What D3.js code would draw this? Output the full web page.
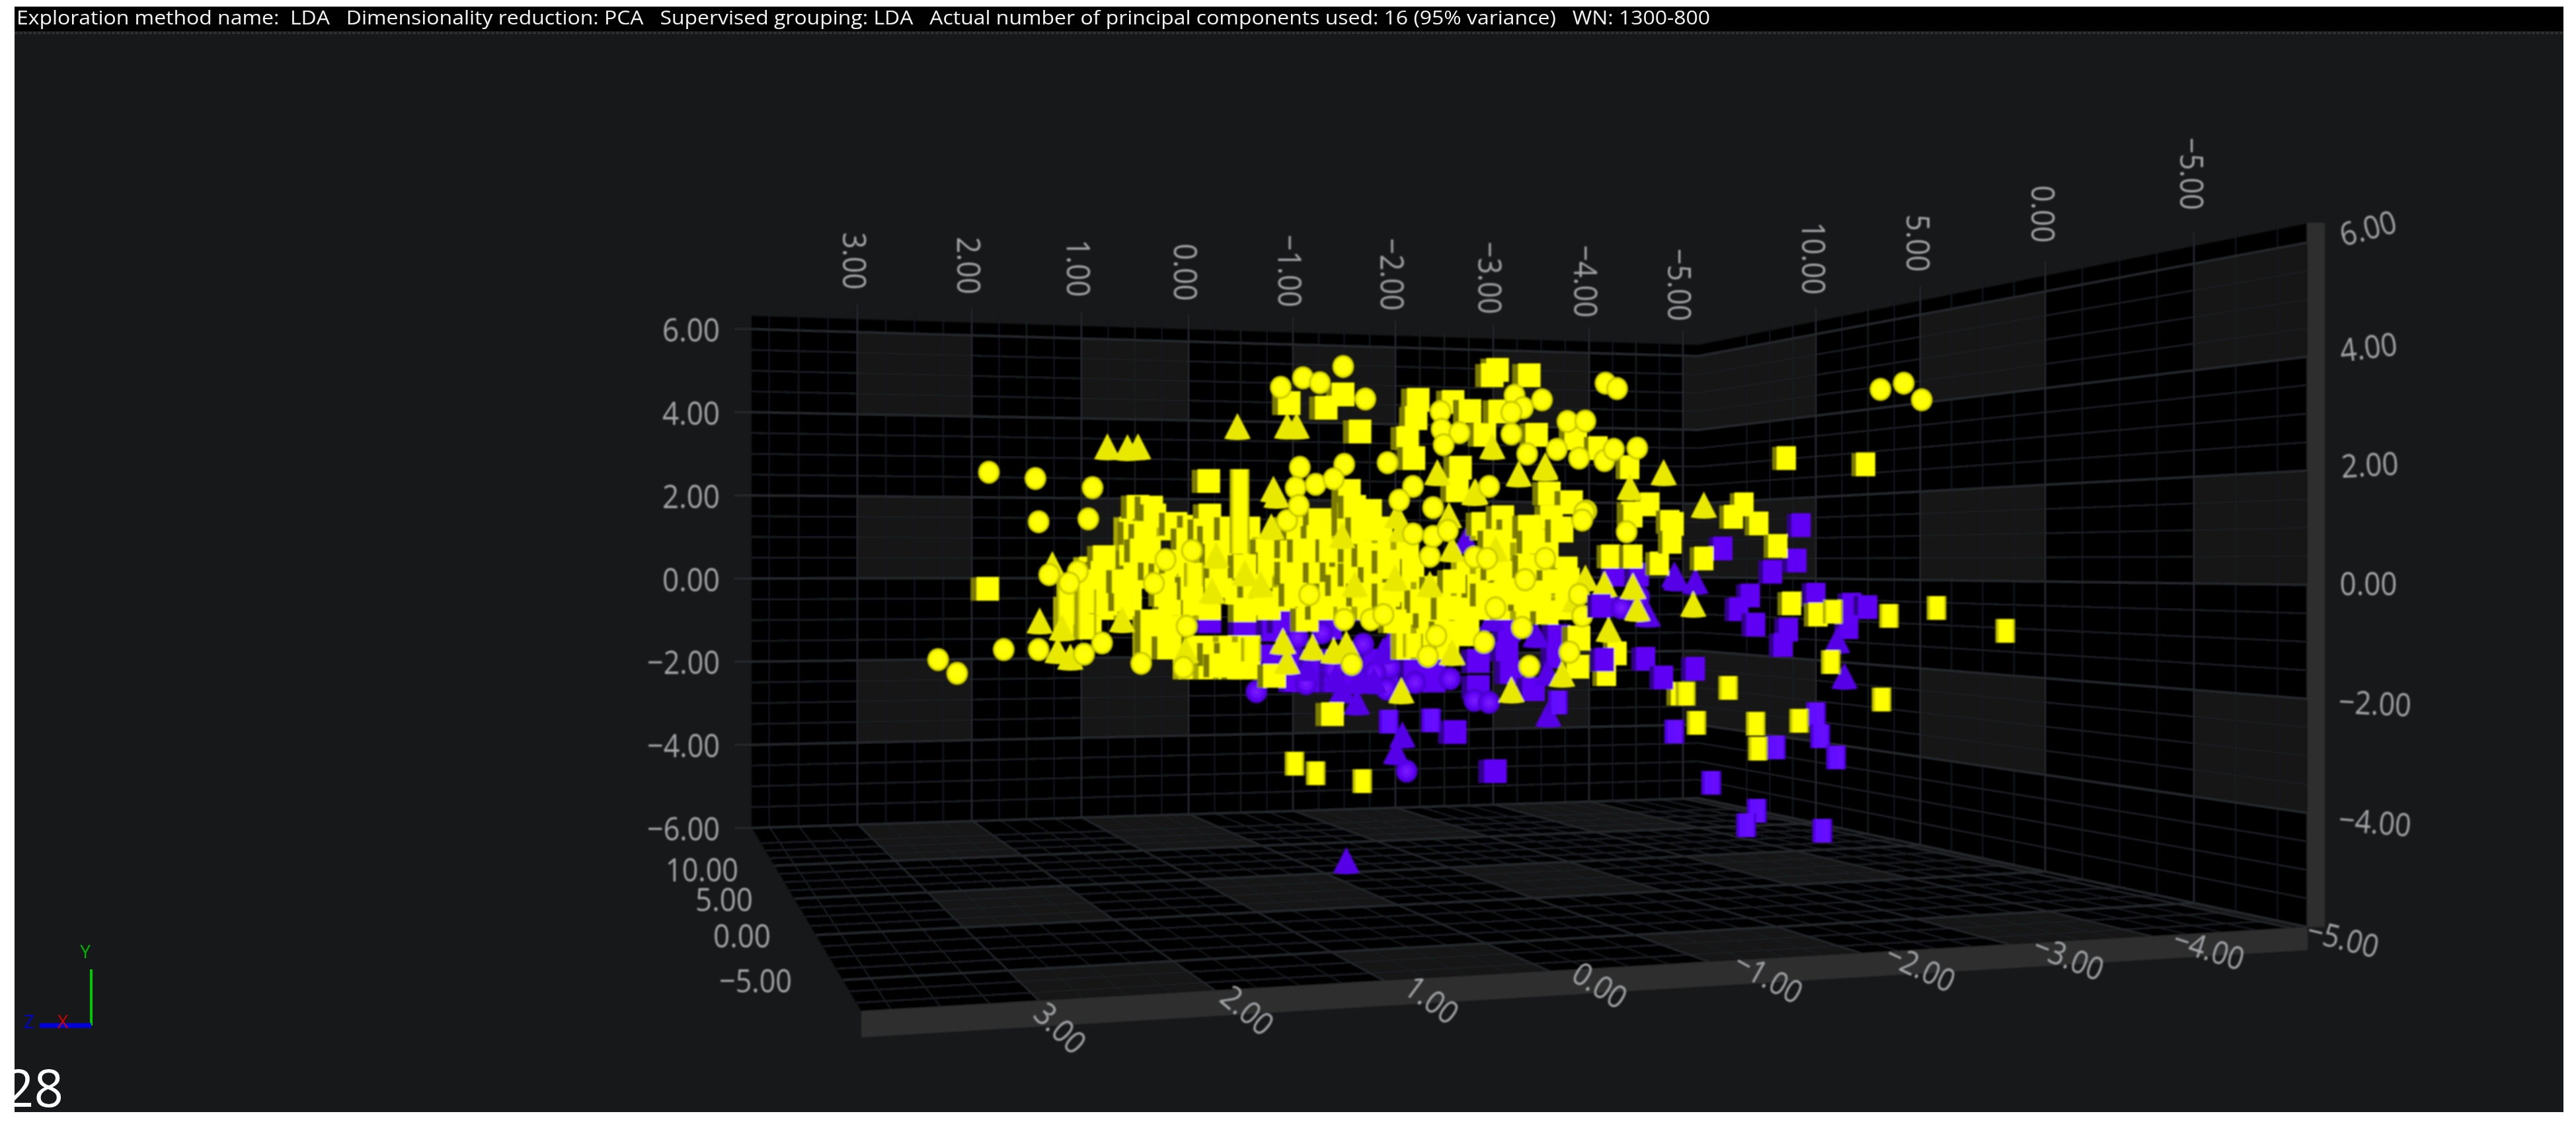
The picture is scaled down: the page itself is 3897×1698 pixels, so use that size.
<!DOCTYPE html>
<html><head><meta charset="utf-8"><style>html,body{margin:0;background:#fff}svg{display:block}text{font-family:"Open Sans",sans-serif;white-space:pre}</style>
<script src="https://cdn.jsdelivr.net/npm/d3@7"></script></head><body><div id="c"></div>
<script>
const headerText="Exploration method name:  LDA   Dimensionality reduction: PCA   Supervised grouping: LDA   Actual number of principal components used: 16 (95% variance)   WN: 1300-800";
const xTicks=[3,2,1,0,-1,-2,-3,-4,-5];
const yTicks=[6,4,2,0,-2,-4,-6];
const yRightTicks=[6,4,2,0,-2,-4];
const zTicks=[10,5,0,-5];

const yellowSpheres=[[-1.45,5.10],[-1.07,4.83],[-1.23,4.71],[-0.86,4.60],[-1.66,4.32],[-1.04,2.68],[-1.46,2.75],[-1.00,2.19],[-1.19,2.27],[-1.36,2.40],[-1.87,2.79],[-2.11,2.22],[-1.98,1.89],[-2.30,1.71],[-2.37,4.02],[-2.38,3.59],[-2.55,3.51],[-2.40,3.22],[-2.83,2.22],[-3.07,4.41],[-3.15,4.11],[-3.04,4.00],[-3.33,4.30],[-3.04,3.48],[-3.19,3.00],[-3.47,3.11],[-3.57,3.78],[-3.74,3.79],[-3.68,2.90],[-3.92,2.84],[-4.01,3.11],[-4.23,3.14],[-3.93,4.70],[-4.04,4.57],[-0.92,1.40],[-1.03,1.76],[-3.75,1.63],[-4.13,1.13],
[1.90,2.56],[1.46,2.41],[0.92,2.19],[1.43,1.37],[0.96,1.44],[1.33,0.10],[1.06,0.17],[1.14,-0.10],[1.43,-1.70],[1.00,-1.81],[0.83,-1.54],[0.46,-2.03],[0.06,-2.13],[0.34,-0.11],[0.23,0.46],[0.03,-1.14],[-0.02,0.68],[2.38,-1.94],[2.20,-2.27],[1.76,-1.70],[-1.13,-0.38],[-1.46,-0.98],
[-2.69,0.52],[-2.81,0.49],[-2.27,0.54],[-2.30,1.02],[-2.11,1.08],[-2.44,1.16],[-3.36,0.49],[-3.17,-0.02],[-3.71,-0.89],[-3.68,-0.38],[-3.73,1.60],[-3.71,1.41],[-1.71,-0.98],[-1.83,-0.86],[-2.33,-1.37],[-2.78,-1.52],[-2.25,-1.86],[-1.53,-2.05],[-3.21,-2.10],[-3.14,-1.17],[-2.89,-0.70],[-3.59,-1.76],
[-6.53,4.55],[-6.75,4.70],[-6.92,4.30]];
const yellowMass=[[0.56,1.21],[0.38,1.21],[0.19,1.21],[-0.19,1.21],[-0.38,1.21],[-0.56,1.21],[-0.94,1.21],[-1.13,1.21],[-1.31,1.21],[-1.50,1.21],[-1.69,1.21],[-2.81,1.21],[-3.00,1.21],[-3.19,1.21],[-3.38,1.21],[-3.50,1.21],
[0.56,0.73],[0.38,0.73],[0.00,0.73],[-0.19,0.73],[-0.38,0.73],[-0.56,0.73],[-0.75,0.73],[-0.94,0.73],[-1.13,0.73],[-1.31,0.73],[-1.50,0.73],[-1.69,0.73],[-1.88,0.73],[-2.06,0.73],[-3.00,0.73],[-3.19,0.73],[-3.38,0.73],
[0.94,0.25],[0.75,0.25],[0.56,0.25],[0.38,0.25],[0.19,0.25],[0.00,0.25],[-0.19,0.25],[-0.38,0.25],[-0.56,0.25],[-0.75,0.25],[-0.94,0.25],[-1.13,0.25],[-1.31,0.25],[-1.50,0.25],[-1.69,0.25],[-1.88,0.25],[-2.06,0.25],[-2.63,0.25],[-2.81,0.25],[-3.00,0.25],[-3.19,0.25],[-3.38,0.25],[-3.56,0.25],
[0.94,-0.22],[0.75,-0.22],[0.56,-0.22],[0.19,-0.22],[0.00,-0.22],[-0.19,-0.22],[-0.38,-0.22],[-0.56,-0.22],[-0.75,-0.22],[-0.94,-0.22],[-1.13,-0.22],[-1.31,-0.22],[-1.50,-0.22],[-1.69,-0.22],[-1.88,-0.22],[-2.06,-0.22],[-2.25,-0.22],[-2.44,-0.22],[-2.63,-0.22],[-2.81,-0.22],[-3.00,-0.22],[-3.19,-0.22],[-3.38,-0.22],[-3.56,-0.22],
[1.13,-0.70],[0.94,-0.70],[0.75,-0.70],[0.56,-0.70],[0.19,-0.70],[0.00,-0.70],[-0.19,-0.70],[-0.56,-0.70],[-0.75,-0.70],[-1.13,-0.70],[-1.50,-0.70],[-1.69,-0.70],[-1.88,-0.70],[-2.06,-0.70],[-2.25,-0.70],[-2.44,-0.70],[-2.63,-0.70],[-2.81,-0.70],[-3.00,-0.70],[-3.19,-0.70],[-3.38,-0.70],[-3.56,-0.70],
[1.13,-1.17],[0.94,-1.17],[0.38,-1.17],[0.19,-1.17],[-2.06,-1.17],[-2.25,-1.17],[-2.44,-1.17],[-2.63,-1.17],
[0.38,-1.65],[0.19,-1.65],[0.00,-1.65],[-0.19,-1.65],[-0.38,-1.65],[-0.56,-1.65],[-2.06,-1.65],[-2.25,-1.65],[-2.44,-1.65],
[0.00,-2.13],[-0.19,-2.13],[-0.38,-2.13],[-0.56,-2.13]];
const yellowSquares=[[-2.91,5.02],[-2.86,4.89],[-3.21,4.89],[-0.94,4.22],[-1.45,4.43],[-1.29,4.11],[-1.61,3.54],[-2.16,4.30],[-2.14,3.86],[-2.49,4.25],[-2.65,4.03],[-2.06,3.38],[-2.12,2.90],[-2.79,3.46],[-2.93,4.02],[-3.28,3.46],[-3.65,3.38],[-2.56,2.67],[-4.16,2.68],[-3.86,3.14],[-2.53,2.13],[-3.40,2.05],[-3.61,1.84],[-4.35,1.79],[-4.17,1.57],[-0.18,2.35],[-5.64,2.90],[-6.39,2.75],[-5.38,1.33],[-5.24,1.79],[-5.14,1.49],[-4.58,1.32],[-5.56,0.79],[-4.86,0.49],[-5.69,-0.59],[-5.94,-0.86],[-4.04,-1.79],[-3.68,-1.41],[-3.67,-2.11],[-3.94,-2.29],[1.91,-0.24],[-1.35,-3.25],
[0.49,1.73],[0.36,1.71],[0.33,1.52],[0.52,1.10],[0.42,1.05],[0.42,0.57],[0.56,0.41],[0.81,0.52],[0.83,0.14],[0.75,-0.27],[0.79,-0.59],[0.61,-0.49],[0.52,0.05],[0.33,0.25],[0.23,0.10],[0.13,1.32],[-0.04,1.25],[0.02,0.94],[-0.19,1.52],[-0.14,1.16],[-0.23,1.00],[-0.39,1.21],[-0.61,0.68],[-0.73,0.68],[-0.75,0.37],[-0.96,0.78],[-1.02,1.21],[-1.23,1.41],[-1.21,1.00],[-0.96,0.14],[-1.23,0.14],[-1.39,0.21],[-1.50,1.84],[-1.50,1.32],[-1.48,0.57],[-0.89,-0.49],[-0.71,-0.59],[-0.52,-0.75],[-0.44,-0.33],[-0.61,-0.17],[-0.04,-0.59],[0.19,-0.59],[0.36,-1.02],[0.36,-1.49],[0.20,-1.65],[-0.08,-1.65],[-0.23,-1.81],[-0.39,-1.81],[-0.46,-2.13],[-0.29,-2.08],[-0.80,-2.33],[-1.11,-0.98],[-1.33,0.68],[-1.33,-0.38],[-1.44,-0.17],[-1.08,0.68],[-0.25,-0.17],[-0.29,0.30],[-0.52,0.30],[-0.02,-0.22],[0.23,-0.38],[0.46,0.68],[-1.51,2.11],[-4.19,1.52],[-2.77,1.32],[-2.96,1.48],[-3.06,1.16],[-3.42,1.48],[-3.52,1.16],[-3.21,1.25],[-1.71,1.63],[-1.56,1.73],[-3.98,0.54],[-4.19,0.54],[-4.44,0.37],[-4.54,1.37],[-4.56,0.89],[-2.11,0.21],[-2.33,-0.22],[-2.73,-0.17],[-3.00,0.14],[-3.21,0.30],[-3.58,-0.02],[-3.44,-0.06],[-3.31,-0.33],[-3.38,-0.81],[-3.17,-0.49],[-2.98,-0.33],[-1.56,0.10],[-1.75,0.10],[-1.92,-0.49],[-2.11,-0.81],[-2.61,-0.89],[-2.61,-1.33],[-3.68,-1.44],[-4.64,-2.76],[-1.56,0.68],[-1.69,0.57],[-1.98,-0.27],[-1.64,-0.38],[-2.27,-0.90],[-2.42,-1.29],[-1.88,0.41],[-2.50,-0.06],[-2.81,-0.38],[-2.19,-0.54],[-2.44,-0.70],[-1.81,1.21],[-1.25,-0.70],[-1.00,-0.38],[-1.88,-0.38],[-0.25,0.57],[0.13,0.41],[0.94,-0.06],[0.63,-0.06],[-1.63,1.21],[-2.91,0.25],[-1.94,-1.02],[-3.25,0.89],[-2.88,0.89]];
const yellowCylinders=[[-0.47,2.35],[-0.47,1.84],[-0.47,1.37],[-0.47,0.89],[0.98,-0.54],[1.17,-0.33],[1.17,-0.81],[0.98,-1.13],[-0.04,0.10],[-0.58,-1.70],[-2.11,-1.60],[-6.06,-2.00],[-6.54,-2.90],[-5.09,-2.62],[-4.69,-2.76],[-4.79,-3.46],[-5.76,-3.41],[-5.35,-3.48],[-5.37,-4.08],[-6.08,-0.79],[-6.61,-0.89],[-7.06,-0.70],[-7.71,-1.25],[-0.99,-4.44],[-1.19,-4.67],[-1.63,-4.86]];
const yellowCones=[[-0.92,3.63],[-1.01,3.63],[-2.34,2.51],[-3.36,2.68],[-2.86,3.14],[-3.11,2.48],[-2.69,2.03],[-4.48,2.51],[-4.16,2.16],[-2.45,1.48],[-1.96,1.48],[-0.82,1.97],[-4.86,1.73],[0.78,3.13],[0.59,3.11],[0.49,3.13],[-0.45,3.62],[1.42,-1.05],[1.21,-1.22],[1.25,-1.76],[1.13,-1.92],[0.64,-1.02],[1.30,0.30],[-0.25,0.52],[-0.79,2.11],[-0.67,-0.17],[-0.92,-2.02],[-1.16,-1.68],[-1.48,-1.60],[-0.88,-1.54],[-1.36,-1.76],[-0.21,-0.33],[-1.44,1.00],[-0.77,1.21],[-0.52,0.10],[0.04,-1.76],[-2.70,2.05],[-3.36,2.63],[-2.00,1.16],[-2.89,0.68],[-2.48,0.68],[-3.74,-0.02],[-3.92,-0.17],[-4.19,-0.22],[-3.96,-1.25],[-3.64,-0.54],[-1.94,-0.02],[-1.56,-0.17],[-2.00,-2.73],[-2.48,-1.81],[-3.04,-2.71],[-3.52,-2.33],[-2.27,-0.17],[-4.23,-0.75],[-4.76,-0.65]];
const purpleMass=[[-1.00,-1.97],[-1.19,-1.97],[-1.38,-1.97],[-1.56,-1.97],[-1.75,-1.97],[-1.94,-1.97],[-2.13,-1.97],[-2.31,-1.97],[-1.00,-2.44],[-1.19,-2.44],[-1.38,-2.44],[-1.56,-2.44],[-1.75,-2.44],[-1.94,-2.44],[-2.13,-2.44],[-2.31,-2.44]];
const purpleSquares=[[-0.19,-1.02],[-0.52,-1.21],[-0.79,-1.22],[-0.89,-1.02],[-1.21,-0.75],[-1.33,-1.17],[-0.75,-1.86],[-2.73,-1.97],[-2.73,-2.60],[-3.00,-1.70],[-3.04,-2.24],[-3.25,-2.65],[-3.49,-1.38],[-3.48,-1.86],[-3.02,-1.22],[-2.51,-3.68],[-2.89,-4.62],[-1.94,-0.86],[-2.13,-2.24],[-3.21,0.76],[-1.92,0.17],[-4.02,0.10],[-4.25,0.10],[-5.78,1.29],[-5.04,0.73],[-5.74,0.44],[-5.51,0.17],[-5.30,-0.40],[-5.19,-0.73],[-5.35,-1.10],[-5.66,-1.22],[-5.61,-1.59],[-6.26,-0.62],[-6.41,-0.68],[-6.23,-1.16],[-5.92,-0.38],[-3.93,-0.62]];
const purpleSquaresFront=[[-3.92,-1.94],[-4.31,-1.92],[-4.48,-2.37],[-4.78,-2.16],[-3.89,-0.65]];
const purpleCylinders=[[-1.88,-3.43],[-2.28,-3.40],[-4.58,-3.67],[-3.48,-2.97],[-5.92,-3.25],[-5.96,-3.78],[-6.11,-4.29],[-5.54,-4.05],[-4.93,-4.90],[-5.36,-5.57],[-5.26,-5.92],[-5.98,-6.05]];
const purpleSpheres=[[-0.61,-2.13],[-0.63,-2.71],[-1.10,-2.52],[-1.02,-1.41],[-1.25,-1.30],[-1.36,-2.17],[-1.58,-0.75],[-1.64,-1.57],[-1.94,-1.52],[-1.89,-2.13],[-1.75,-2.25],[-2.46,-2.40],[-2.69,-2.92],[-2.83,-2.97],[-4.08,-0.70],[-4.25,-0.43],[-2.05,-4.62],[-2.13,-2.49],[-1.86,-2.65]];
const purpleCones=[[-1.11,-2.17],[-1.38,-2.40],[-1.44,-2.71],[-2.86,-0.98],[-3.27,-1.38],[-1.83,-1.76],[-1.58,-3.00],[-1.59,-2.49],[-2.01,-3.79],[-1.95,-4.19],[-3.39,-3.29],[-4.33,-0.89],[-4.58,0.05],[-3.38,-2.29],[-2.61,0.89],[-3.05,0.68],[-4.60,-0.02],[-4.78,-0.10],[-6.12,-1.52],[-6.19,-2.38],[-1.48,-6.81],[-1.74,-2.49],[-1.61,-2.44]];

const W=3897,H=1698;
const svg=d3.select("#c").append("svg").attr("width",W).attr("height",H).attr("viewBox",`0 0 ${W} ${H}`);
const defs=svg.append("defs");
const mkBlur=(id,s)=>defs.append("filter").attr("id",id).attr("filterUnits","userSpaceOnUse").attr("x",0).attr("y",0).attr("width",W).attr("height",H).append("feGaussianBlur").attr("stdDeviation",s);
mkBlur("b1",1.3);mkBlur("b2",1.0);
const rad=(id,c0,c1,c2)=>{const g=defs.append("radialGradient").attr("id",id).attr("cx","50%").attr("cy","50%").attr("r","52%");
 g.append("stop").attr("offset","0%").attr("stop-color",c0);g.append("stop").attr("offset","70%").attr("stop-color",c1);g.append("stop").attr("offset","100%").attr("stop-color",c2);};
rad("ys","#ffff10","#ffff00","#a6a600");rad("ps","#7d1cff","#5c00f2","#3a00a8");
const lin=(id,e,m)=>{const g=defs.append("linearGradient").attr("id",id);
 [[0,e],[.22,m],[.5,m],[.62,d3.color(m).brighter(.25).formatHex()],[.85,m],[1,e]].forEach(s=>g.append("stop").attr("offset",s[0]).attr("stop-color",s[1]));};
lin("yc","#8e8e00","#ffff00");lin("pc","#4200c4","#6208ff");

// page + panel
svg.append("rect").attr("width",W).attr("height",H).attr("fill","#fff");
svg.append("rect").attr("x",22).attr("y",10).attr("width",3856).attr("height",1673).attr("fill","#17181a");
svg.append("rect").attr("x",22).attr("y",10).attr("width",3856).attr("height",37).attr("fill","#000");
svg.append("line").attr("x1",22).attr("x2",3878).attr("y1",50).attr("y2",50).attr("stroke","#333").attr("stroke-width",3).attr("stroke-dasharray","5 2");

// scales of the box
const xWall=d3.scaleLinear().domain([3.9,3,2,1,0,-1,-2,-3,-4,-5,-5.16]).range([1137,1297,1470,1636,1798,1956,2111,2259,2404,2546,2569]);
const xFront=d3.scaleLinear().domain([3.9,3,2,1,0,-1,-2,-3,-4,-5,-5.16]).range([1303,1572,1838,2094,2344,2585,2815,3040,3255,3465,3491]);
const zWall=d3.scaleLinear().domain([16.4,10,5,0,-5,-8.4]).range([2569,2747,2905,3094,3319,3491]);
const zLeftY=d3.scaleLinear().domain([16.4,10,5,0,-5,-8.4]).range([1252,1310,1360,1415,1483,1530]);
const yL=d3.scaleLinear().domain([6,-6]).range([498,1253]);
const yC=d3.scaleLinear().domain([6,-6]).range([539,1208]);
const yR=d3.scaleLinear().domain([6,-6]).range([367,1403]);
const tBack=d3.scaleLinear().domain([1137,2569]).range([0,1]);
const tSide=d3.scaleLinear().domain([2569,3491]).range([0,1]);
const L=(a,b,t)=>a+(b-a)*t;
const backY=(v,p)=>L(yL(v),yC(v),tBack(p));
const sideY=(v,p)=>L(yC(v),yR(v),tSide(p));
const backTop=p=>L(478,522,tBack(p));
const sideTop=p=>L(522,338,tSide(p));
const poly=(g,pts,fill)=>g.append("polygon").attr("points",pts.map(p=>p.join(",")).join(" ")).attr("fill",fill);
const seg=(g,a,b,c,w)=>g.append("line").attr("x1",a[0]).attr("y1",a[1]).attr("x2",b[0]).attr("y2",b[1]).attr("stroke",c).attr("stroke-width",w);
const LIGHT="#151617",MAJ="#272b2f",MIN="#1a1d20";

const box=svg.append("g").attr("filter","url(#b2)");
// floor helpers
const floorXLine=x=>[[xWall(x),L(1252,1208,tBack(xWall(x)))],[xFront(x),L(1530,1403,(xFront(x)-1303)/(3491-1303))]];
const floorZLine=z=>{const y=zLeftY(z),p=zWall(z);return [[L(1137,1303,(y-1252)/(1530-1252)),y],[p,L(1208,1403,tSide(p))]];};
const cross=(A,B)=>{const [[a,b],[c,d]]=A,[[e,f],[g,h]]=B,D=(a-c)*(f-h)-(b-d)*(e-g),p=a*d-b*c,q=e*h-f*g;return [(p*(e-g)-(a-c)*q)/D,(p*(f-h)-(b-d)*q)/D];};
const fp=(x,z)=>cross(floorXLine(x),floorZLine(z));

// walls and floor base
poly(box,[[1137,478],[2569,522],[2569,1208],[1137,1252]],"#000");
poly(box,[[2569,522],[3491,338],[3491,1403],[2569,1208]],"#000");
poly(box,[[1137,1252],[2569,1208],[3491,1403],[1303,1530]],"#000");
poly(box,[[1303,1530],[3491,1403],[3491,1438],[1303,1570]],"#2e2e2e");
box.append("rect").attr("x",3490).attr("y",337).attr("width",27).attr("height",1066).attr("fill","#2e2e2e");

const xCols=[[3,2],[1,0],[-1,-2],[-3,-4],[-5,-5.16]];
const yRows=[[6,4],[2,0],[-2,-4]];
const zCols=[[16.4,10],[5,0],[-5,-8.4]];
xCols.forEach(c=>yRows.forEach(r=>{const a=xWall(c[0]),b=xWall(c[1]);poly(box,[[a,backY(r[0],a)],[b,backY(r[0],b)],[b,backY(r[1],b)],[a,backY(r[1],a)]],LIGHT);}));
zCols.forEach(c=>yRows.forEach(r=>{const a=zWall(c[0]),b=zWall(c[1]);poly(box,[[a,sideY(r[0],a)],[b,sideY(r[0],b)],[b,sideY(r[1],b)],[a,sideY(r[1],a)]],LIGHT);}));
xCols.forEach(c=>zCols.forEach(r=>poly(box,[fp(c[0],r[0]),fp(c[1],r[0]),fp(c[1],r[1]),fp(c[0],r[1])],LIGHT)));

// grid
const xMinor=d3.range(-5,3.76,.25).filter(v=>!Number.isInteger(v));
const yMinor=d3.range(-6,6.1,.5).filter(v=>v%2!==0);
const zMinor=d3.range(-7.5,15.1,1.25).filter(v=>v%5!==0);
xMinor.forEach(x=>{const p=xWall(x);seg(box,[p,backTop(p)-10],[p,backY(-6,p)],MIN,1.8);seg(box,...floorXLine(x),MIN,2);});
zMinor.forEach(z=>{const p=zWall(z);seg(box,[p,sideTop(p)-10],[p,sideY(-6,p)],MIN,1.8);seg(box,...floorZLine(z),MIN,2.5);});
yMinor.forEach(v=>{seg(box,[1137,yL(v)],[2569,yC(v)],MIN,2.5);seg(box,[2569,yC(v)],[3491,yR(v)],MIN,2.5);});
xTicks.forEach(x=>{const p=xWall(x);seg(box,[p,backTop(p)-22],[p,backY(-6,p)],MAJ,2);seg(box,...floorXLine(x),MAJ,2.2);});
zTicks.forEach(z=>{const p=zWall(z);seg(box,[p,sideTop(p)-22],[p,sideY(-6,p)],MAJ,2);seg(box,...floorZLine(z),MAJ,3);});
yTicks.forEach(v=>{seg(box,[1111,yL(v)],[1137,yL(v)],MAJ,3);seg(box,[1137,yL(v)],[2569,yC(v)],MAJ,3);seg(box,[2569,yC(v)],[3491,yR(v)],MAJ,3);});

// marks
const px=d3.scaleLinear().domain([0,-1]).range([1800,1960]);
const py=d3.scaleLinear().domain([0,-1]).range([876,939]);
const marks=svg.append("g").attr("filter","url(#b1)");
function cubes(arr,col,side){arr.forEach(d=>{const x=px(d[0]),y=py(d[1]),right=x>2400,w=right?29:34,h=36,s=right?7:9;
 marks.append("rect").attr("x",x-w/2-s).attr("y",y-h/2+1).attr("width",s+1).attr("height",h-1).attr("fill",side);
 marks.append("rect").attr("x",x-w/2).attr("y",y-h/2).attr("width",w).attr("height",h).attr("fill",col);});}
function cyls(arr,grad){arr.forEach(d=>{const x=px(d[0]),y=py(d[1]);
 marks.append("rect").attr("x",x-15).attr("y",y-18).attr("width",30).attr("height",36).attr("fill",`url(#${grad})`);});}
function spheres(arr,grad){marks.append("g").selectAll("ellipse").data(arr).join("ellipse").attr("cx",d=>px(d[0])).attr("cy",d=>py(d[1])).attr("rx",16.5).attr("ry",17.5).attr("fill",`url(#${grad})`);}
function cones(arr,col){marks.append("g").selectAll("path").data(arr).join("path").attr("d",d=>{const x=px(d[0]),y=py(d[1]),q=d3.path();q.moveTo(x,y-23);q.lineTo(x+20,y+16);q.quadraticCurveTo(x,y+20,x-20,y+16);q.closePath();return q.toString();}).attr("fill",col);}
cubes(purpleMass,"#5e00f5","#3f00b4");
cubes(purpleSquares,"#5e00f5","#33008c");
spheres(purpleSpheres,"ps");
cones(purpleCones,"#5400e6");
cyls(purpleCylinders,"pc");
cubes(yellowMass,"#ffff00","#a8a800");
cubes(yellowSquares,"#ffff00","#7c7c00");
cyls(yellowCylinders,"yc");
cones(yellowCones,"#e9e900");
spheres(yellowSpheres,"ys");
cubes(purpleSquaresFront,"#5e00f5","#33008c");

// text
const fmt=d3.format(".2f");
const T=svg.append("g").attr("filter","url(#b2)").attr("fill","#a3a5a8").attr("font-size",50);
const lbl=(t,x,y,rot,len,anc)=>T.append("text").attr("transform",`translate(${x},${y}) rotate(${rot})`).attr("text-anchor",anc||"middle").attr("dominant-baseline","central").attr("textLength",len).attr("lengthAdjust","spacingAndGlyphs").text(t);
const lenOf=t=>t.length===4?87:(t[0]==="-"?103:110);
// top x labels
const topXc=d3.scaleLinear().domain([3,-5]).range([-3,-4]);
const topXy=d3.scaleLinear().domain([3,2,1,0]).range([395,402,406,412]);
xTicks.forEach(v=>{const t=fmt(v),p=xWall(v);const cy=v>=0?topXy(v):d3.scaleLinear().domain([-1,-5]).range([410,431])(v);lbl(t,p+topXc(v),cy,90,lenOf(t));});
// top z labels
const topZy=d3.scaleLinear().domain([10,5,0,-5]).range([391,368,324,263]);
zTicks.forEach(v=>{const t=fmt(v);lbl(t,zWall(v)-2,topZy(v),90,lenOf(t));});
// left y
yTicks.forEach(v=>{const t=fmt(v);lbl(t,1089,yL(v),0,lenOf(t),"end");});
// right y
const rY=d3.scaleLinear().domain([6,4,2,0,-2,-4]).range([344,524,702,882,1063,1243]);
const rX=d3.scaleLinear().domain([6,4,2,0,-2,-4]).range([3582,3583,3585,3583,3593,3593]);
const rR=d3.scaleLinear().domain([6,4,2,0,-2,-4]).range([-15,-7,-3,0,3,5]);
yRightTicks.forEach(v=>{const t=fmt(v);lbl(t,rX(v),rY(v),rR(v),lenOf(t));});
// floor left z labels
const fzX=d3.scaleLinear().domain([10,5,0,-5]).range([1117,1139,1166,1198]);
const fzY=d3.scaleLinear().domain([10,5,0,-5]).range([1315,1360,1415,1483]);
zTicks.forEach(v=>{const t=fmt(v);lbl(t,fzX(v),fzY(v),0,lenOf(t),"end");});
// front x labels
const fxX=d3.scaleLinear().domain(xTicks).range([1605,1888,2167,2421,2676,2906,3130,3342,3545]);
const fxY=d3.scaleLinear().domain(xTicks).range([1555,1528,1512,1490,1478,1463,1448,1435,1419]);
const fxR=d3.scaleLinear().domain([3,-5]).range([44,14]);
xTicks.forEach(v=>{const t=fmt(v);lbl(t,fxX(v),fxY(v),fxR(v),lenOf(t));});

// header, triad, stray text
const fg=svg.append("g");
fg.append("text").attr("x",25).attr("y",37).attr("fill","#f2f2f2").attr("font-size",30).attr("textLength",2562).attr("lengthAdjust","spacingAndGlyphs").text(headerText);
fg.append("line").attr("x1",138).attr("x2",138).attr("y1",1467).attr("y2",1552).attr("stroke","#00c800").attr("stroke-width",4);
fg.append("line").attr("x1",60).attr("x2",138).attr("y1",1552).attr("y2",1552).attr("stroke","#0000e0").attr("stroke-width",7);
const tri=(t,x,y,c)=>fg.append("text").attr("x",x).attr("y",y).attr("fill",c).attr("font-size",28).attr("text-anchor","middle").text(t);
tri("Y",129,1450,"#00b400");tri("Z",44,1556,"#0000d8");tri("X",95,1556,"#d80000");
svg.append("rect").attr("x",0).attr("y",0).attr("width",22).attr("height",H).attr("fill","#fff");
svg.append("rect").attr("x",0).attr("y",1683).attr("width",W).attr("height",15).attr("fill","#fff");
svg.append("text").attr("x",96).attr("y",1675).attr("fill","#fff").attr("font-size",78).attr("text-anchor","end").text("28");
svg.append("rect").attr("x",0).attr("y",1600).attr("width",22).attr("height",83).attr("fill","#fff");
</script></body></html>
